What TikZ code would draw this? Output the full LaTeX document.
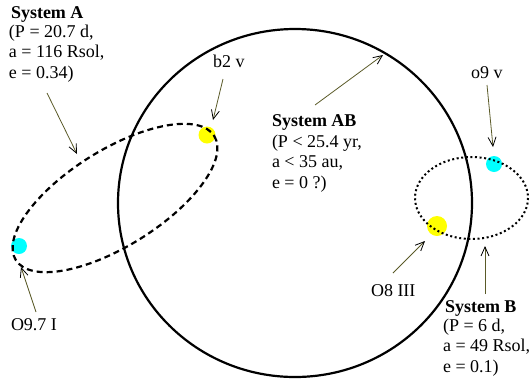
\documentclass[tikz,border=0pt]{standalone}
\usepackage{fontspec}
\setmainfont{Liberation Serif}
\usetikzlibrary{arrows.meta}
\definecolor{arrowcol}{RGB}{90,90,40}
\definecolor{starcyan}{RGB}{0,255,255}
\definecolor{staryellow}{RGB}{255,255,0}
\begin{document}
\begin{tikzpicture}[x=1pt,y=-1pt,
  txt/.style={inner sep=0pt,outer sep=0pt,anchor=base west,align=left,
    font=\fontsize{18}{20.5}\selectfont},
  ttl/.style={txt,font=\fontsize{18}{20.5}\selectfont\bfseries},
  starnode/.style={circle,inner sep=0pt,draw=none},
  orbitA/.style={line width=2.2pt,dash pattern=on 6pt off 4pt},
  orbitB/.style={line width=2pt,dash pattern=on 2pt off 2.6pt},
  orbitAB/.style={line width=2.2pt},
  pointer/.style={draw=arrowcol,line width=0.8pt,
    -{Straight Barb[length=9pt,width=8pt,color=black,line width=0.8pt]}}]
\useasboundingbox (0,0) rectangle (532,381);
% stars
\node[starnode,fill=starcyan,minimum size=16pt] (o97) at (19,246) {};
\node[starnode,fill=staryellow,minimum size=17pt] (b2) at (207,135) {};
\node[starnode,fill=starcyan,minimum size=16pt] (o9) at (494,164) {};
\node[starnode,fill=staryellow,minimum size=20pt] (o8) at (437,226) {};
% orbits
\draw[orbitAB] (295,203) ellipse [x radius=177, y radius=174];
\draw[orbitA,rotate around={32:(115,198)}] (115,198) ellipse [x radius=117, y radius=48];
\draw[orbitB] (471.5,198) ellipse [x radius=56.5, y radius=41];
% labels (multi-line nodes: base anchor is on the last line)
\node[ttl] (tA) at (11,18.3) {System A};
\node[txt] (bA) at (9,78.3) {(P = 20.7 d,\\a = 116 Rsol,\\e = 0.34)};
\node[ttl] (tAB) at (272,126) {System AB};
\node[txt] (bAB) at (272,188) {(P < 25.4 yr,\\a < 35 au,\\e = 0 ?)};
\node[ttl] (tB) at (445,312.5) {System B};
\node[txt] (bB) at (443,372) {(P = 6 d,\\a = 49 Rsol,\\e = 0.1)};
\node[txt] (lb2) at (213,67) {b2 v};
\node[txt] (lo9) at (471,78) {o9 v};
\node[txt] (lo8) at (371,296) {O8 III};
\node[txt] (lo97) at (11,330.5) {O9.7 I};
% pointer ends
\coordinate (a1s) at (47,93);   \coordinate (a1e) at (77,154);
\coordinate (a2s) at (315,105); \coordinate (a2e) at (383,55);
\coordinate (a3s) at (487,85);  \coordinate (a3e) at (493,147);
\coordinate (a4s) at (393,273); \coordinate (a4e) at (425,241);
\coordinate (a5s) at (485,294); \coordinate (a5e) at (485,246);
\coordinate (a6s) at (36,312);  \coordinate (a6e) at (21,267);
\coordinate (a7s) at (223,79);  \coordinate (a7e) at (213,120);
\draw[pointer] (a1s) -- (a1e);
\draw[pointer] (a2s) -- (a2e);
\draw[pointer] (a3s) -- (a3e);
\draw[pointer] (a4s) -- (a4e);
\draw[pointer] (a5s) -- (a5e);
\draw[pointer] (a6s) -- (a6e);
\draw[pointer] (a7s) -- (a7e);
\end{tikzpicture}
\end{document}
